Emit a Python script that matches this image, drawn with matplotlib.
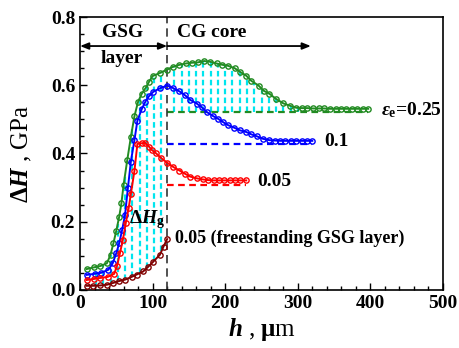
#!/usr/bin/env python3

import numpy as np
import matplotlib
matplotlib.use('Agg')
from matplotlib import pyplot as plt

plt.rcParams['font.family'] = 'Liberation Serif'
plt.rcParams['font.weight'] = 'bold'
plt.rcParams['mathtext.fontset'] = 'custom'
plt.rcParams['mathtext.rm'] = 'Liberation Serif:bold'
plt.rcParams['mathtext.it'] = 'Liberation Serif:italic:bold'
plt.rcParams['mathtext.bf'] = 'Liberation Serif:bold'

# eps_e = 0.25
h_025 = [9, 19, 28, 37, 42, 46, 50, 54, 57, 60, 65, 70, 75, 80, 85, 90, 95,
         100, 110, 120, 128, 137, 146, 154, 162, 171, 179, 188, 196, 204, 213,
         220, 229, 236, 246, 253, 261, 270, 280, 289, 298, 306, 313, 321, 329,
         336, 344, 352, 359, 367, 374, 382, 390, 397]
dh_025 = [0.061, 0.066, 0.070, 0.078, 0.103, 0.137, 0.174, 0.215, 0.254,
          0.308, 0.380, 0.448, 0.510, 0.552, 0.575, 0.591, 0.610, 0.627,
          0.636, 0.646, 0.654, 0.660, 0.664, 0.666, 0.667, 0.671, 0.669,
          0.664, 0.660, 0.657, 0.650, 0.640, 0.628, 0.613, 0.599, 0.584,
          0.575, 0.560, 0.547, 0.540, 0.534, 0.533, 0.533, 0.532, 0.532,
          0.532, 0.531, 0.531, 0.531, 0.531, 0.531, 0.531, 0.531, 0.531]
base_025 = 0.521

# eps_e = 0.1
h_01 = [9, 20, 29, 39, 45, 50, 54, 58, 62, 66, 70, 75, 79, 85, 90, 95, 101,
        110, 120, 128, 137, 145, 152, 161, 168, 175, 183, 190, 197, 204, 212,
        220, 229, 236, 244, 252, 261, 268, 276, 283, 291, 298, 306, 313, 320]
dh_01 = [0.044, 0.047, 0.050, 0.059, 0.078, 0.108, 0.137, 0.176, 0.220,
         0.300, 0.376, 0.440, 0.496, 0.530, 0.552, 0.568, 0.581, 0.591,
         0.599, 0.592, 0.582, 0.570, 0.557, 0.546, 0.535, 0.521, 0.510,
         0.502, 0.492, 0.483, 0.476, 0.468, 0.463, 0.456, 0.450, 0.443,
         0.439, 0.438, 0.437, 0.437, 0.437, 0.437, 0.437, 0.437, 0.437]
base_01 = 0.428

# eps_e = 0.05
h_005 = [9, 19, 28, 38, 47, 51, 55, 59, 63, 67, 70, 75, 79, 85, 90, 95, 99,
         105, 112, 120, 128, 137, 145, 152, 161, 169, 176, 184, 191, 199, 206,
         214, 221, 229]
dh_005 = [0.029, 0.032, 0.035, 0.038, 0.047, 0.071, 0.108, 0.147, 0.196,
          0.240, 0.281, 0.350, 0.428, 0.430, 0.431, 0.420, 0.410, 0.400,
          0.386, 0.373, 0.361, 0.350, 0.340, 0.332, 0.327, 0.324, 0.322,
          0.321, 0.321, 0.321, 0.321, 0.321, 0.321, 0.321]
base_005 = 0.308

# eps_e = 0.05, freestanding GSG layer
h_free = [9, 18, 28, 37, 45, 54, 62, 71, 78, 87, 94, 101, 110, 115, 120]
dh_free = [0.012, 0.012, 0.013, 0.015, 0.020, 0.026, 0.030, 0.038, 0.045,
           0.054, 0.068, 0.083, 0.103, 0.127, 0.149]

h_gsg = 120

fig = plt.figure(figsize=(4.6, 3.48), dpi=100)
ax = fig.add_axes([0.174, 0.167, 0.789, 0.784])

cyan = '#00E5EE'
# Delta H_g hatch in GSG layer
for x in np.arange(22, 118, 10):
    y0 = np.interp(x, h_free, dh_free)
    y1 = np.interp(x, h_025, dh_025)
    ax.plot([x, x], [y0, y1], color=cyan, lw=1.6, ls=(0, (2.5, 1.5)), zorder=1)
# hatch in CG core
for x in np.arange(130, 305, 10):
    y1 = np.interp(x, h_025, dh_025)
    ax.plot([x, x], [base_025, y1], color=cyan, lw=1.6, ls=(0, (2.5, 1.5)), zorder=1)

series = [
    (h_025, dh_025, base_025, '#228B22'),
    (h_01, dh_01, base_01, '#0000FF'),
    (h_005, dh_005, base_005, '#FF0000'),
]
for h, dh, base, c in series:
    ax.plot(h, dh, color=c, lw=1.4, marker='o', ms=3.8, mfc='none', mew=1.0, zorder=3)
    ax.plot([h_gsg, h[-1]], [base, base], color=c, lw=1.6, ls=(0, (3, 2)), zorder=2)

ax.plot(h_free, dh_free, color='#800000', lw=1.4, marker='o', ms=3.8, mfc='none',
        mew=1.0, zorder=3)

ax.axvline(h_gsg, color='#333333', lw=1.2, ls=(0, (5, 3)), zorder=2)

ax.annotate('', xy=(0, 0.715), xytext=(h_gsg, 0.715),
            arrowprops=dict(arrowstyle='<|-|>,head_length=0.5,head_width=0.2',
                            color='black', lw=1.3, shrinkA=0, shrinkB=0))
ax.annotate('', xy=(318, 0.715), xytext=(h_gsg, 0.715),
            arrowprops=dict(arrowstyle='-|>,head_length=0.5,head_width=0.2',
                            color='black', lw=1.3, shrinkA=0, shrinkB=0))

ax.text(58, 0.755, 'GSG', ha='center', va='center', fontsize=14)
ax.text(58, 0.678, 'layer', ha='center', va='center', fontsize=14)
ax.text(133, 0.755, 'CG core', ha='left', va='center', fontsize=14)
ax.text(414, 0.528, r'$\varepsilon_{\rm e}$=0.25', ha='left', va='center', fontsize=14)
ax.text(336, 0.435, '0.1', ha='left', va='center', fontsize=14)
ax.text(244, 0.318, '0.05', ha='left', va='center', fontsize=14)
ax.text(131, 0.152, '0.05 (freestanding GSG layer)', ha='left', va='center', fontsize=13)
ax.text(68, 0.205, r'$\Delta\mathit{H}_{\rm g}$', ha='left', va='center', fontsize=14)

ax.set_xlim(0, 500)
ax.set_ylim(0, 0.8)
ax.set_xticks(np.arange(0, 501, 100))
ax.set_yticks(np.arange(0, 0.81, 0.2))
ax.set_xticks(np.arange(0, 501, 20), minor=True)
ax.set_yticks(np.arange(0, 0.81, 0.05), minor=True)
ax.set_yticklabels(['0.0', '0.2', '0.4', '0.6', '0.8'])
ax.tick_params(which='both', direction='in', labelsize=14, width=1)
ax.tick_params(which='major', length=5)
ax.tick_params(which='minor', length=3)
for s in ax.spines.values():
    s.set_linewidth(1.2)

ax.set_xlabel(r'$\mathit{h}$ , $\mathrm{\mu}$m', fontsize=18, labelpad=3)
ax.set_ylabel(r'$\Delta\mathit{H}$ , GPa', fontsize=18, labelpad=12)

fig.savefig('out.png', dpi=100)
